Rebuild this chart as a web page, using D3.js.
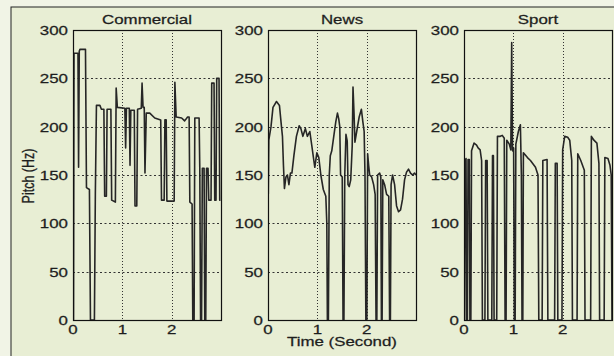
<!DOCTYPE html>
<html>
<head>
<meta charset="utf-8">
<script src="https://cdn.jsdelivr.net/npm/d3@7"></script>
<style>
  body { margin: 0; background: #f1f4e6; }
  svg { display: block; }
  text { font-family: "Liberation Sans", Arial, sans-serif; fill: #1e1e1e; stroke: #1e1e1e; stroke-width: 0.25; }
</style>
</head>
<body>
<script>
// pitch tracks, time in seconds, pitch in Hz
var commercialT = [0.010,0.020,0.101,0.113,0.127,0.141,0.253,0.273,0.333,0.354,0.434,0.453,0.475,0.545,0.576,0.626,0.642,0.677,0.691,0.768,0.784,0.859,0.875,0.899,1.051,1.067,1.083,1.141,1.156,1.172,1.242,1.257,1.293,1.309,1.384,1.400,1.420,1.444,1.459,1.485,1.556,1.657,1.778,1.794,1.848,1.863,1.889,1.903,2.051,2.065,2.091,2.202,2.263,2.323,2.354,2.368,2.414,2.428,2.455,2.469,2.556,2.570,2.586,2.606,2.622,2.657,2.671,2.691,2.707,2.737,2.752,2.798,2.812,2.859,2.873,2.899,2.913,2.960,2.974,2.990];
var commercialHz = [0,276,276,158,278,280,280,137,135,0,0,130,222,222,218,218,128,128,218,218,124,122,240,220,219,178,219,219,160,217,217,118,118,218,219,245,220,220,152,214,214,209,207,124,124,207,207,123,123,246,210,209,206,210,210,122,120,0,0,209,209,157,0,0,157,157,0,0,157,157,124,124,245,245,124,124,250,250,124,124];

var newsT = [0.006,0.016,0.061,0.101,0.172,0.232,0.273,0.293,0.313,0.333,0.364,0.394,0.424,0.455,0.485,0.525,0.576,0.632,0.667,0.707,0.758,0.798,0.848,0.889,0.929,0.949,0.990,1.030,1.071,1.121,1.172,1.192,1.204,1.224,1.242,1.263,1.293,1.333,1.374,1.408,1.434,1.455,1.471,1.505,1.521,1.539,1.556,1.580,1.606,1.622,1.646,1.677,1.707,1.723,1.743,1.762,1.798,1.848,1.893,1.923,1.949,1.966,1.984,2.004,2.020,2.040,2.061,2.101,2.141,2.172,2.190,2.206,2.222,2.263,2.287,2.299,2.313,2.327,2.364,2.404,2.448,2.465,2.481,2.495,2.525,2.566,2.606,2.646,2.687,2.727,2.768,2.808,2.848,2.889,2.929,2.970,3.0];
var newsHz = [130,186,200,220,226,222,200,190,160,136,148,150,140,152,152,170,190,201,198,190,198,190,195,180,165,158,173,168,150,135,128,100,0,0,150,170,175,190,205,214,208,200,150,148,0,0,150,192,185,140,138,145,180,241,215,184,195,210,218,205,195,150,0,0,172,160,150,148,140,130,0,0,150,152,148,0,0,145,140,130,128,0,0,140,150,140,118,112,114,125,145,153,156,152,150,152,150];

var sportT = [0.010,0.020,0.041,0.053,0.069,0.082,0.108,0.120,0.139,0.153,0.204,0.255,0.286,0.327,0.357,0.373,0.424,0.439,0.469,0.484,0.563,0.578,0.596,0.610,0.663,0.678,0.735,0.776,0.816,0.833,0.853,0.867,0.918,0.949,0.967,0.984,1.006,1.020,1.037,1.051,1.102,1.143,1.163,1.176,1.192,1.204,1.286,1.347,1.449,1.500,1.516,1.584,1.598,1.684,1.700,1.837,1.851,1.888,1.902,1.986,2.000,2.041,2.102,2.143,2.184,2.198,2.292,2.306,2.367,2.439,2.453,2.567,2.582,2.633,2.694,2.735,2.749,2.841,2.855,2.918,2.959,2.984,3.0];
var sportHz = [0,165,167,0,0,166,166,0,0,175,183,181,178,176,165,0,0,165,165,0,0,170,170,0,0,190,190,191,188,0,0,186,182,176,287,175,178,0,0,182,195,202,150,0,0,173,168,165,158,150,0,0,165,166,0,0,162,162,0,0,176,190,189,186,165,0,0,172,165,155,0,0,190,186,183,162,0,0,168,167,160,150,0];

var titles = ["Commercial", "News", "Sport"];
var yTicks = [0, 50, 100, 150, 200, 250, 300];
var xTicks = [0, 1, 2];

var series = [
  {title: titles[0], t: commercialT, hz: commercialHz},
  {title: titles[1], t: newsT, hz: newsHz},
  {title: titles[2], t: sportT, hz: sportHz}
];

var W = 614, H = 356,
  lefts = [73, 268, 464],
  pw = 148, plotTop = 30, plotBottom = 320,
  sx = 1.35; // the scan is stretched sideways

var svg = d3.select("body").append("svg")
  .attr("width", W).attr("height", H);

// paper
svg.append("rect")
  .attr("x", 11).attr("y", 7).attr("width", W).attr("height", H)
  .attr("fill", "#e8eed4").attr("stroke", "#222").attr("stroke-width", 1);

var y = d3.scaleLinear().domain([0, 300]).range([plotBottom, plotTop]);

function label(g, x, yy, txt, anchor, rot) {
  return g.append("text")
    .attr("transform", "translate(" + x + "," + yy + ") scale(" + sx + ",1)" + (rot ? " rotate(" + rot + ")" : ""))
    .attr("text-anchor", anchor)
    .attr("font-size", 12.5)
    .text(txt);
}

series.forEach(function (s, i) {
  var x = d3.scaleLinear().domain([0, 3]).range([lefts[i], lefts[i] + pw]);
  var g = svg.append("g");

  g.append("clipPath").attr("id", "clip" + i)
    .append("rect").attr("x", lefts[i]).attr("y", plotTop)
    .attr("width", pw).attr("height", plotBottom - plotTop);

  // grid
  g.selectAll(".hg").data(yTicks.slice(1, -1)).enter().append("line")
    .attr("x1", lefts[i]).attr("x2", lefts[i] + pw)
    .attr("y1", function (d) { return Math.round(y(d)) + 0.5; })
    .attr("y2", function (d) { return Math.round(y(d)) + 0.5; })
    .attr("stroke", "#333").attr("stroke-width", 1)
    .attr("stroke-dasharray", "2,2.5");
  g.selectAll(".vg").data(xTicks.slice(1)).enter().append("line")
    .attr("x1", function (d) { return Math.round(x(d)) + 0.5; })
    .attr("x2", function (d) { return Math.round(x(d)) + 0.5; })
    .attr("y1", plotTop).attr("y2", plotBottom)
    .attr("stroke", "#333").attr("stroke-width", 1)
    .attr("stroke-dasharray", "1,2");

  // pitch track
  var pts = s.t.map(function (t, k) { return [t, s.hz[k]]; });
  g.append("path")
    .datum(pts)
    .attr("clip-path", "url(#clip" + i + ")")
    .attr("fill", "none")
    .attr("stroke", "#262626")
    .attr("stroke-width", 1.6)
    .attr("stroke-linejoin", "round")
    .attr("d", d3.line().x(function (d) { return x(d[0]); }).y(function (d) { return y(d[1]); }));

  // box
  g.append("rect")
    .attr("x", lefts[i] + 0.5).attr("y", plotTop + 0.5)
    .attr("width", pw).attr("height", plotBottom - plotTop)
    .attr("fill", "none").attr("stroke", "#111").attr("stroke-width", 1.2);

  // tick labels
  yTicks.forEach(function (v) {
    label(g, lefts[i] - 5, y(v) + 5, String(v), "end");
  });
  xTicks.forEach(function (v) {
    label(g, x(v), 334, String(v), "middle");
  });

  label(g, lefts[i] + pw / 2, 24, s.title, "middle");
});

label(svg, 342, 346, "Time (Second)", "middle");
label(svg, 34, 176, "Pitch (Hz)", "middle", -90);
</script>
</body>
</html>
